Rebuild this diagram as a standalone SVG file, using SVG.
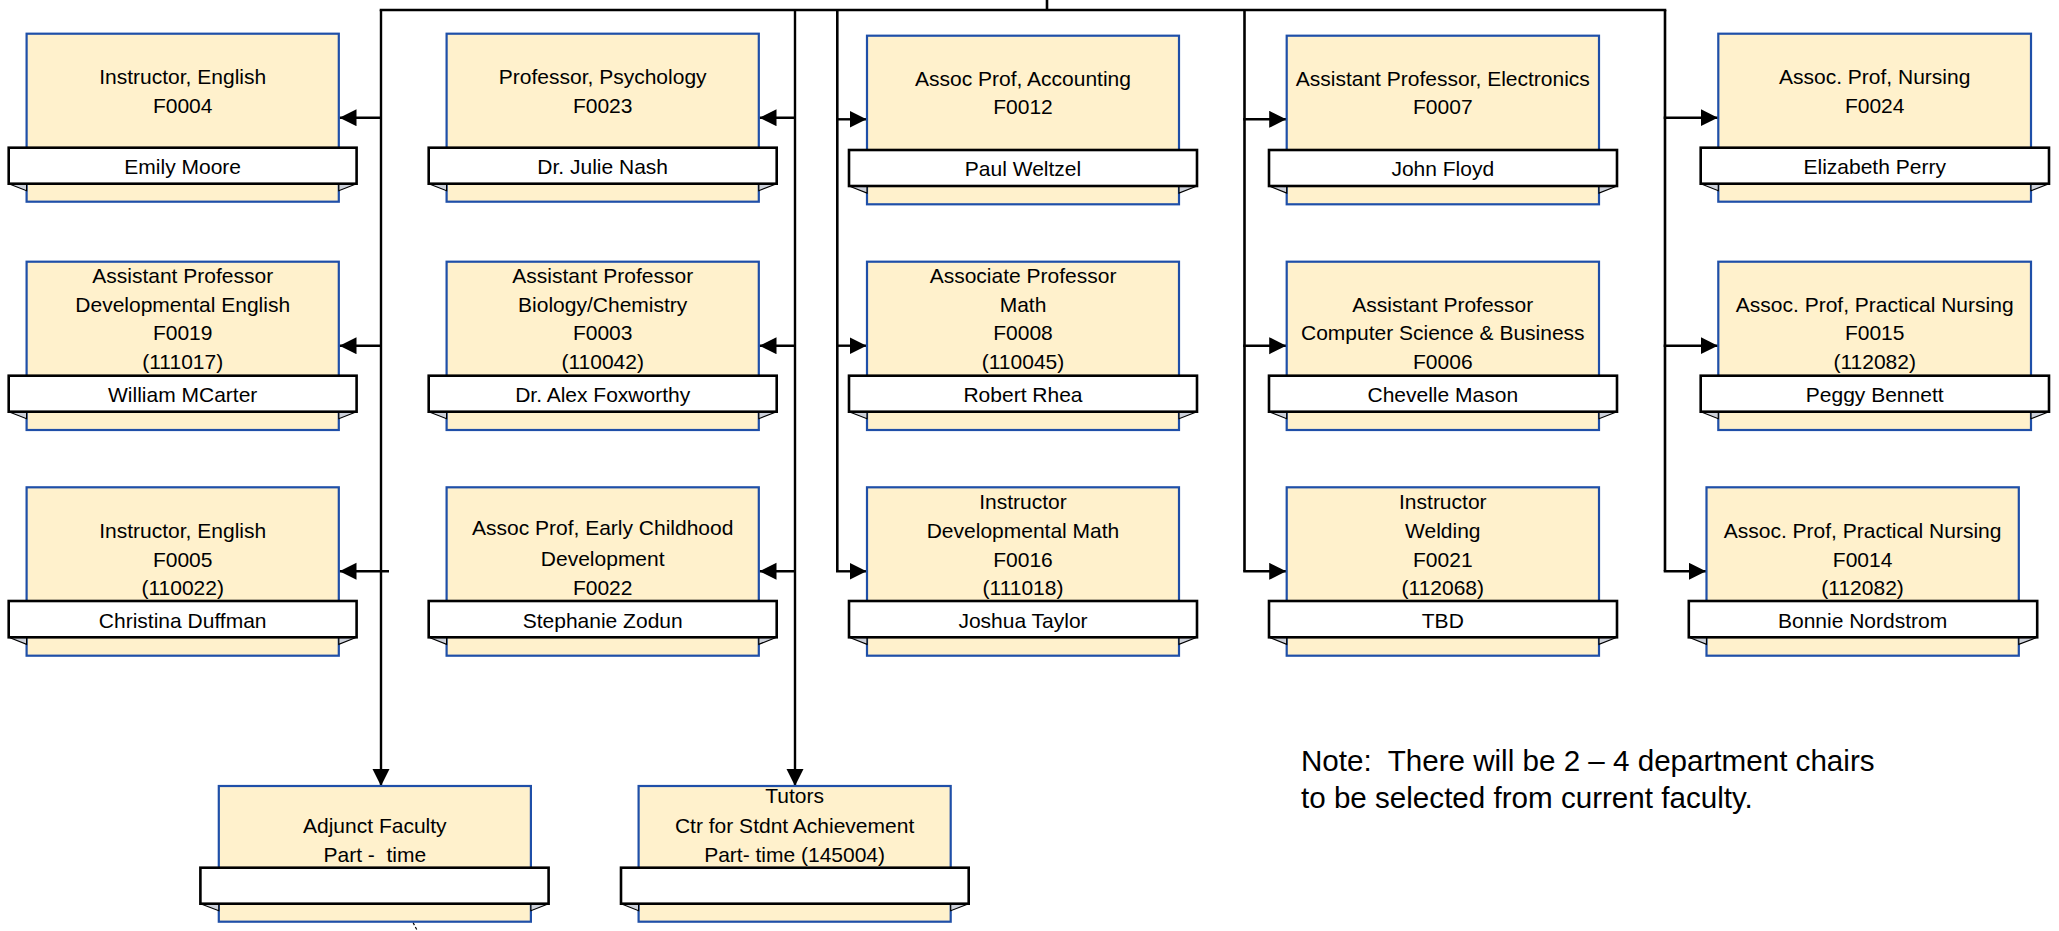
<svg xmlns="http://www.w3.org/2000/svg" width="2059" height="931" viewBox="0 0 2059 931">
<style>
.box{fill:#FFF1CC;stroke:#1F4FA8;stroke-width:2.2}
.bar{fill:#FFFFFF;stroke:#000;stroke-width:2.6}
.fold{fill:#CDD1DA;stroke:#000;stroke-width:1.2}
.t{font-family:"Liberation Sans",Arial,sans-serif;font-size:21px;fill:#000;text-anchor:middle}
.note{font-family:"Liberation Sans",Arial,sans-serif;font-size:29.6px;fill:#000}
.c{fill:none;stroke:#000;stroke-width:2.6}
.ca{fill:none;stroke:#000;stroke-width:2.4;marker-end:url(#ah)}
.dash{fill:none;stroke:#000;stroke-width:1.2;stroke-dasharray:3 2}
</style>
<defs>
<marker id="ah" markerUnits="userSpaceOnUse" markerWidth="18" markerHeight="18" refX="17" refY="8.5" orient="auto" viewBox="0 0 18 18">
<path d="M0,0 L17,8.5 L0,17 Z" fill="#000"/>
</marker>
</defs>
<rect width="2059" height="931" fill="#fff"/>

<g id="connectors">
<line class="c" x1="1047" y1="0" x2="1047" y2="10"/>
<line class="c" x1="379.7" y1="10" x2="1666.3" y2="10"/>
<line class="ca" x1="381" y1="10" x2="381" y2="786"/>
<line class="ca" x1="795" y1="10" x2="795" y2="786"/>
<line class="c" x1="837.3" y1="10" x2="837.3" y2="571.3"/>
<line class="c" x1="1244.5" y1="10" x2="1244.5" y2="571.3"/>
<line class="c" x1="1665" y1="10" x2="1665" y2="571.3"/>
<line class="ca" x1="381" y1="117.7" x2="339.5" y2="117.7"/>
<line class="ca" x1="381" y1="345.7" x2="339.5" y2="345.7"/>
<line class="ca" x1="389" y1="571.3" x2="339.5" y2="571.3"/>
<line class="ca" x1="795" y1="117.7" x2="759.5" y2="117.7"/>
<line class="ca" x1="795" y1="345.7" x2="759.5" y2="345.7"/>
<line class="ca" x1="795" y1="571.3" x2="759.5" y2="571.3"/>
<line class="ca" x1="836" y1="119.3" x2="866.5" y2="119.3"/>
<line class="ca" x1="836" y1="345.7" x2="866.5" y2="345.7"/>
<line class="ca" x1="836" y1="571.3" x2="866.5" y2="571.3"/>
<line class="ca" x1="1243.2" y1="119.3" x2="1286.2" y2="119.3"/>
<line class="ca" x1="1243.2" y1="345.7" x2="1286.2" y2="345.7"/>
<line class="ca" x1="1243.2" y1="571.3" x2="1286.2" y2="571.3"/>
<line class="ca" x1="1663.7" y1="117.7" x2="1717.8" y2="117.7"/>
<line class="ca" x1="1663.7" y1="345.7" x2="1717.8" y2="345.7"/>
<line class="ca" x1="1663.7" y1="571.3" x2="1706" y2="571.3"/>
<line class="dash" x1="413" y1="922.5" x2="417.5" y2="931"/>
</g>

<!-- Row 1 -->
<g id="n-f0004">
<rect class="box" x="26.6" y="33.7" width="312.2" height="168"/>
<polygon class="fold" points="8.7,183.7 26.6,183.7 26.6,190.7"/>
<polygon class="fold" points="356.6,183.7 338.8,183.7 338.8,190.7"/>
<rect class="bar" x="8.7" y="147.7" width="347.9" height="36"/>
<text class="t" x="182.7" y="84.3">Instructor, English</text>
<text class="t" x="182.7" y="112.7">F0004</text>
<text class="t" x="182.7" y="174">Emily Moore</text>
</g>
<g id="n-f0023">
<rect class="box" x="446.6" y="33.7" width="312.2" height="168"/>
<polygon class="fold" points="428.7,183.7 446.6,183.7 446.6,190.7"/>
<polygon class="fold" points="776.7,183.7 758.8,183.7 758.8,190.7"/>
<rect class="bar" x="428.7" y="147.7" width="348" height="36"/>
<text class="t" x="602.7" y="84.3">Professor, Psychology</text>
<text class="t" x="602.7" y="112.7">F0023</text>
<text class="t" x="602.7" y="174">Dr. Julie Nash</text>
</g>
<g id="n-f0012">
<rect class="box" x="867" y="35.7" width="312" height="168.6"/>
<polygon class="fold" points="849,186 867,186 867,193"/>
<polygon class="fold" points="1197,186 1179,186 1179,193"/>
<rect class="bar" x="849" y="150" width="348" height="36"/>
<text class="t" x="1023" y="86">Assoc Prof, Accounting</text>
<text class="t" x="1023" y="114.3">F0012</text>
<text class="t" x="1023" y="176.3">Paul Weltzel</text>
</g>
<g id="n-f0007">
<rect class="box" x="1286.7" y="35.7" width="312.3" height="168.6"/>
<polygon class="fold" points="1269,186 1286.7,186 1286.7,193"/>
<polygon class="fold" points="1617,186 1599,186 1599,193"/>
<rect class="bar" x="1269" y="150" width="348" height="36"/>
<text class="t" x="1442.8" y="86">Assistant Professor, Electronics</text>
<text class="t" x="1442.8" y="114.3">F0007</text>
<text class="t" x="1442.8" y="176.3">John Floyd</text>
</g>
<g id="n-f0024">
<rect class="box" x="1718.3" y="33.7" width="312.7" height="168"/>
<polygon class="fold" points="1700.7,183.7 1718.3,183.7 1718.3,190.7"/>
<polygon class="fold" points="2049,183.7 2031,183.7 2031,190.7"/>
<rect class="bar" x="1700.7" y="147.7" width="348.3" height="36"/>
<text class="t" x="1874.7" y="84.3">Assoc. Prof, Nursing</text>
<text class="t" x="1874.7" y="112.7">F0024</text>
<text class="t" x="1874.7" y="174">Elizabeth Perry</text>
</g>

<!-- Row 2 -->
<g id="n-f0019">
<rect class="box" x="26.6" y="261.7" width="312.2" height="168.3"/>
<polygon class="fold" points="8.7,411.7 26.6,411.7 26.6,418.7"/>
<polygon class="fold" points="356.6,411.7 338.8,411.7 338.8,418.7"/>
<rect class="bar" x="8.7" y="375.7" width="347.9" height="36"/>
<text class="t" x="182.7" y="282.7">Assistant Professor</text>
<text class="t" x="182.7" y="311.5">Developmental English</text>
<text class="t" x="182.7" y="340.3">F0019</text>
<text class="t" x="182.7" y="369">(111017)</text>
<text class="t" x="182.7" y="402.3">William MCarter</text>
</g>
<g id="n-f0003">
<rect class="box" x="446.6" y="261.7" width="312.2" height="168.3"/>
<polygon class="fold" points="428.7,411.7 446.6,411.7 446.6,418.7"/>
<polygon class="fold" points="776.7,411.7 758.8,411.7 758.8,418.7"/>
<rect class="bar" x="428.7" y="375.7" width="348" height="36"/>
<text class="t" x="602.7" y="282.7">Assistant Professor</text>
<text class="t" x="602.7" y="311.5">Biology/Chemistry</text>
<text class="t" x="602.7" y="340.3">F0003</text>
<text class="t" x="602.7" y="369">(110042)</text>
<text class="t" x="602.7" y="402.3">Dr. Alex Foxworthy</text>
</g>
<g id="n-f0008">
<rect class="box" x="867" y="261.7" width="312" height="168.3"/>
<polygon class="fold" points="849,411.7 867,411.7 867,418.7"/>
<polygon class="fold" points="1197,411.7 1179,411.7 1179,418.7"/>
<rect class="bar" x="849" y="375.7" width="348" height="36"/>
<text class="t" x="1023" y="282.7">Associate Professor</text>
<text class="t" x="1023" y="311.5">Math</text>
<text class="t" x="1023" y="340.3">F0008</text>
<text class="t" x="1023" y="369">(110045)</text>
<text class="t" x="1023" y="402.3">Robert Rhea</text>
</g>
<g id="n-f0006">
<rect class="box" x="1286.7" y="261.7" width="312.3" height="168.3"/>
<polygon class="fold" points="1269,411.7 1286.7,411.7 1286.7,418.7"/>
<polygon class="fold" points="1617,411.7 1599,411.7 1599,418.7"/>
<rect class="bar" x="1269" y="375.7" width="348" height="36"/>
<text class="t" x="1442.8" y="311.5">Assistant Professor</text>
<text class="t" x="1442.8" y="340.3">Computer Science &amp; Business</text>
<text class="t" x="1442.8" y="369">F0006</text>
<text class="t" x="1442.8" y="402.3">Chevelle Mason</text>
</g>
<g id="n-f0015">
<rect class="box" x="1718.3" y="261.7" width="312.7" height="168.3"/>
<polygon class="fold" points="1700.7,411.7 1718.3,411.7 1718.3,418.7"/>
<polygon class="fold" points="2049,411.7 2031,411.7 2031,418.7"/>
<rect class="bar" x="1700.7" y="375.7" width="348.3" height="36"/>
<text class="t" x="1874.7" y="311.5">Assoc. Prof, Practical Nursing</text>
<text class="t" x="1874.7" y="340.3">F0015</text>
<text class="t" x="1874.7" y="369">(112082)</text>
<text class="t" x="1874.7" y="402.3">Peggy Bennett</text>
</g>

<!-- Row 3 -->
<g id="n-f0005">
<rect class="box" x="26.6" y="487.3" width="312.2" height="168.4"/>
<polygon class="fold" points="8.7,637.3 26.6,637.3 26.6,644.3"/>
<polygon class="fold" points="356.6,637.3 338.8,637.3 338.8,644.3"/>
<rect class="bar" x="8.7" y="601" width="347.9" height="36.3"/>
<text class="t" x="182.7" y="538">Instructor, English</text>
<text class="t" x="182.7" y="566.7">F0005</text>
<text class="t" x="182.7" y="595">(110022)</text>
<text class="t" x="182.7" y="627.7">Christina Duffman</text>
</g>
<g id="n-f0022">
<rect class="box" x="446.6" y="487.3" width="312.2" height="168.4"/>
<polygon class="fold" points="428.7,637.3 446.6,637.3 446.6,644.3"/>
<polygon class="fold" points="776.7,637.3 758.8,637.3 758.8,644.3"/>
<rect class="bar" x="428.7" y="601" width="348" height="36.3"/>
<text class="t" x="602.7" y="535">Assoc Prof, Early Childhood</text>
<text class="t" x="602.7" y="565.5">Development</text>
<text class="t" x="602.7" y="595">F0022</text>
<text class="t" x="602.7" y="627.7">Stephanie Zodun</text>
</g>
<g id="n-f0016">
<rect class="box" x="867" y="487.3" width="312" height="168.4"/>
<polygon class="fold" points="849,637.3 867,637.3 867,644.3"/>
<polygon class="fold" points="1197,637.3 1179,637.3 1179,644.3"/>
<rect class="bar" x="849" y="601" width="348" height="36.3"/>
<text class="t" x="1023" y="509.3">Instructor</text>
<text class="t" x="1023" y="538">Developmental Math</text>
<text class="t" x="1023" y="566.7">F0016</text>
<text class="t" x="1023" y="595">(111018)</text>
<text class="t" x="1023" y="627.7">Joshua Taylor</text>
</g>
<g id="n-f0021">
<rect class="box" x="1286.7" y="487.3" width="312.3" height="168.4"/>
<polygon class="fold" points="1269,637.3 1286.7,637.3 1286.7,644.3"/>
<polygon class="fold" points="1617,637.3 1599,637.3 1599,644.3"/>
<rect class="bar" x="1269" y="601" width="348" height="36.3"/>
<text class="t" x="1442.8" y="509.3">Instructor</text>
<text class="t" x="1442.8" y="538">Welding</text>
<text class="t" x="1442.8" y="566.7">F0021</text>
<text class="t" x="1442.8" y="595">(112068)</text>
<text class="t" x="1442.8" y="627.7">TBD</text>
</g>
<g id="n-f0014">
<rect class="box" x="1706.5" y="487.3" width="312.3" height="168.4"/>
<polygon class="fold" points="1688.8,637.3 1706.5,637.3 1706.5,644.3"/>
<polygon class="fold" points="2037.2,637.3 2018.8,637.3 2018.8,644.3"/>
<rect class="bar" x="1688.8" y="601" width="348.4" height="36.3"/>
<text class="t" x="1862.6" y="538">Assoc. Prof, Practical Nursing</text>
<text class="t" x="1862.6" y="566.7">F0014</text>
<text class="t" x="1862.6" y="595">(112082)</text>
<text class="t" x="1862.6" y="627.7">Bonnie Nordstrom</text>
</g>

<!-- Bottom row -->
<g id="n-adjunct">
<rect class="box" x="218.8" y="786" width="312.1" height="135.7"/>
<polygon class="fold" points="200.4,903.7 218.8,903.7 218.8,910.7"/>
<polygon class="fold" points="548.6,903.7 530.9,903.7 530.9,910.7"/>
<rect class="bar" x="200.4" y="867.7" width="348.2" height="36"/>
<text class="t" x="374.8" y="832.7">Adjunct Faculty</text>
<text class="t" x="374.8" y="861.7" xml:space="preserve">Part -  time</text>
</g>
<g id="n-tutors">
<rect class="box" x="638.6" y="786" width="312.1" height="135.7"/>
<polygon class="fold" points="621,903.7 638.6,903.7 638.6,910.7"/>
<polygon class="fold" points="968.7,903.7 950.7,903.7 950.7,910.7"/>
<rect class="bar" x="621" y="867.7" width="347.7" height="36"/>
<text class="t" x="794.6" y="803.3">Tutors</text>
<text class="t" x="794.6" y="832.7">Ctr for Stdnt Achievement</text>
<text class="t" x="794.6" y="861.7">Part- time (145004)</text>
</g>

<g id="note">
<text class="note" x="1301" y="770.7" xml:space="preserve">Note:  There will be 2 – 4 department chairs</text>
<text class="note" x="1301" y="808">to be selected from current faculty.</text>
</g>
</svg>
